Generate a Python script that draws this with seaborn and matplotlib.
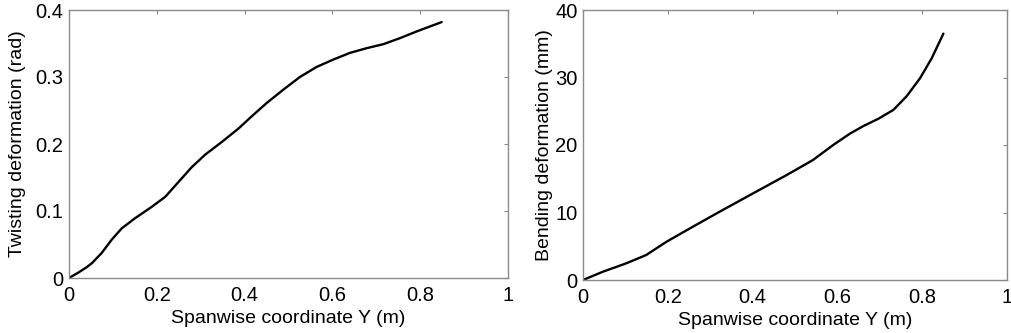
import matplotlib
matplotlib.use("Agg")
import matplotlib.pyplot as plt
import pandas as pd
import seaborn as sns

# spanwise coordinate Y (m) and deformation values
twist_y = [0.0, 0.021, 0.040, 0.052, 0.074, 0.097, 0.120, 0.150, 0.188, 0.219,
           0.249, 0.279, 0.310, 0.348, 0.386, 0.414, 0.450, 0.488, 0.526, 0.564,
           0.602, 0.640, 0.678, 0.716, 0.754, 0.792, 0.849]
twist_rad = [0.0, 0.008, 0.016, 0.022, 0.037, 0.057, 0.074, 0.089, 0.106, 0.121,
             0.143, 0.165, 0.184, 0.203, 0.223, 0.240, 0.261, 0.281, 0.300, 0.315,
             0.326, 0.336, 0.343, 0.349, 0.358, 0.368, 0.382]

bend_y = [0.0, 0.047, 0.102, 0.149, 0.197, 0.259, 0.322, 0.401, 0.480, 0.542,
          0.590, 0.630, 0.661, 0.697, 0.732, 0.763, 0.795, 0.822, 0.850]
bend_mm = [0.0, 1.23, 2.47, 3.70, 5.67, 7.89, 10.11, 12.83, 15.54, 17.76,
           20.0, 21.7, 22.8, 23.9, 25.2, 27.2, 29.9, 32.8, 36.5]

sns.set_theme(style="white")
plt.rcParams["font.family"] = ["Liberation Sans", "DejaVu Sans"]
plt.rcParams["text.color"] = "black"
plt.rcParams["axes.labelcolor"] = "black"
plt.rcParams["xtick.labelcolor"] = "black"
plt.rcParams["ytick.labelcolor"] = "black"

EDGE = "#8a8a8a"

fig = plt.figure(figsize=(10.11, 3.33), dpi=100)
ax1 = fig.add_axes([69 / 1011, 1 - 278 / 333, 439 / 1011, 268 / 333])
ax2 = fig.add_axes([583 / 1011, 1 - 280 / 333, 424 / 1011, 270 / 333])

panels = [
    (ax1, twist_y, twist_rad, "Twisting deformation (rad)", 0.4,
     [0, 0.1, 0.2, 0.3, 0.4], ["0", "0.1", "0.2", "0.3", "0.4"], -0.098),
    (ax2, bend_y, bend_mm, "Bending deformation (mm)", 40,
     [0, 10, 20, 30, 40], ["0", "10", "20", "30", "40"], -0.071),
]

xticks = [0, 0.2, 0.4, 0.6, 0.8, 1]
xlabels = ["0", "0.2", "0.4", "0.6", "0.8", "1"]

for ax, xs, ys, ylabel, ymax, yt, ytl, ylab_x in panels:
    df = pd.DataFrame({"x": xs, "y": ys})
    sns.lineplot(data=df, x="x", y="y", ax=ax, color="black", linewidth=1.7)
    ax.set_xlim(0, 1)
    ax.set_ylim(0, ymax)
    ax.set_xticks(xticks)
    ax.set_xticklabels(xlabels)
    ax.set_yticks(yt)
    ax.set_yticklabels(ytl)
    ax.set_xlabel("Spanwise coordinate Y (m)", fontsize=14)
    ax.set_ylabel(ylabel, fontsize=14)
    ax.xaxis.set_label_coords(0.5, -0.12)
    ax.yaxis.set_label_coords(ylab_x, 0.5)
    ax.tick_params(direction="in", length=3, width=0.8, color=EDGE,
                   labelsize=14.5, top=True, right=True)
    ax.tick_params(axis="x", pad=6)
    ax.tick_params(axis="y", pad=4)
    for sp in ax.spines.values():
        sp.set_visible(True)
        sp.set_color(EDGE)
        sp.set_linewidth(1.0)

fig.savefig("out.png", dpi=100)
